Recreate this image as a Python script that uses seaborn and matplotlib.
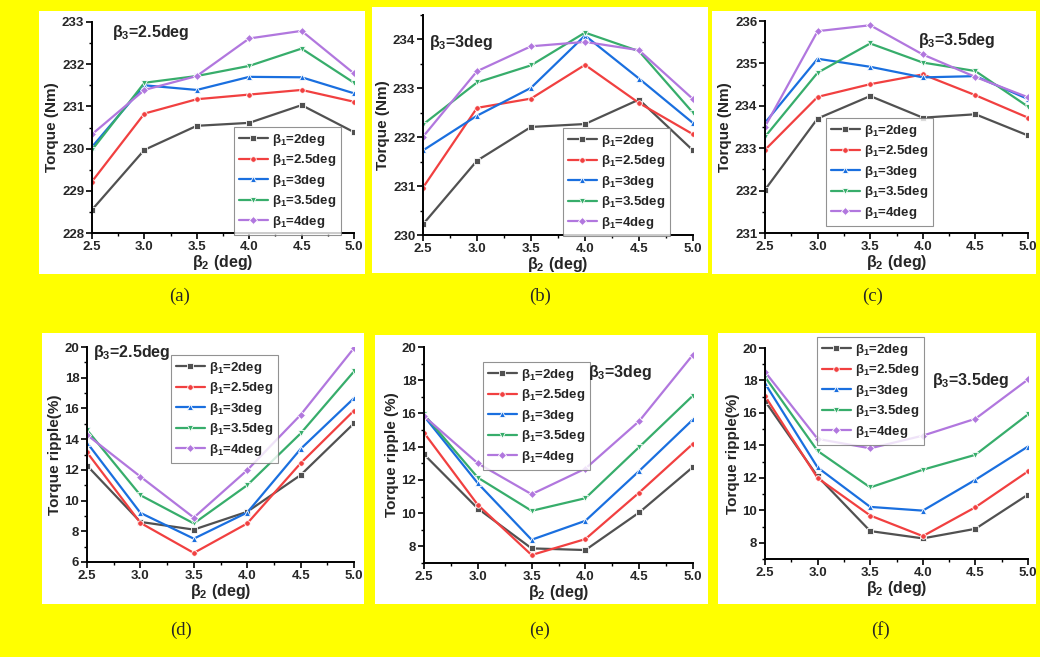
import numpy as np
import pandas as pd
import matplotlib
matplotlib.use("Agg")
import matplotlib.pyplot as plt
from matplotlib.patches import Rectangle
from matplotlib.ticker import MultipleLocator, AutoMinorLocator, FormatStrFormatter
import seaborn as sns

sns.set_theme(style="white")
plt.rcParams["font.family"] = ["Liberation Sans", "DejaVu Sans"]
plt.rcParams["mathtext.fontset"] = "custom"
plt.rcParams["mathtext.rm"] = "Liberation Sans:bold"
plt.rcParams["mathtext.it"] = "Liberation Sans:bold"
plt.rcParams["mathtext.bf"] = "Liberation Sans:bold"

# ---- data -------------------------------------------------------------
beta2 = [2.5, 3.0, 3.5, 4.0, 4.5, 5.0]
beta1_labels = ["β$_1$=2deg", "β$_1$=2.5deg", "β$_1$=3deg", "β$_1$=3.5deg", "β$_1$=4deg"]

# torque (Nm), beta3 = 2.5 deg
torque_b3_25 = [
    [228.55, 229.97, 230.54, 230.61, 231.03, 230.39],
    [229.22, 230.83, 231.17, 231.28, 231.39, 231.11],
    [230.04, 231.50, 231.39, 231.70, 231.69, 231.31],
    [229.97, 231.56, 231.72, 231.96, 232.37, 231.56],
    [230.34, 231.39, 231.72, 232.61, 232.79, 231.78],
]
# torque (Nm), beta3 = 3 deg
torque_b3_30 = [
    [230.22, 231.52, 232.21, 232.27, 232.77, 231.73],
    [230.97, 232.60, 232.79, 233.48, 232.70, 232.06],
    [231.73, 232.44, 233.01, 234.08, 233.20, 232.29],
    [232.26, 233.12, 233.47, 234.14, 233.76, 232.50],
    [232.01, 233.35, 233.86, 233.95, 233.78, 232.78],
]
# torque (Nm), beta3 = 3.5 deg
torque_b3_35 = [
    [232.02, 233.70, 234.23, 233.72, 233.80, 233.30],
    [232.96, 234.21, 234.51, 234.74, 234.25, 233.72],
    [233.60, 235.11, 234.92, 234.67, 234.70, 234.16],
    [233.27, 234.78, 235.47, 235.02, 234.82, 233.98],
    [233.51, 235.76, 235.90, 235.21, 234.68, 234.20],
]
# torque ripple (%), beta3 = 2.5 deg
ripple_b3_25 = [
    [12.28, 8.61, 8.11, 9.27, 11.66, 15.03],
    [13.14, 8.55, 6.59, 8.51, 12.43, 15.86],
    [13.77, 9.20, 7.52, 9.22, 13.36, 16.67],
    [14.60, 10.35, 8.51, 11.00, 14.37, 18.41],
    [14.28, 11.56, 8.89, 11.98, 15.58, 19.93],
]
# torque ripple (%), beta3 = 3 deg
ripple_b3_30 = [
    [13.54, 10.28, 7.88, 7.78, 10.04, 12.78],
    [14.84, 10.50, 7.48, 8.44, 11.24, 14.18],
    [15.84, 11.80, 8.40, 9.54, 12.54, 15.64],
    [15.94, 12.14, 10.14, 10.90, 13.98, 17.08],
    [15.84, 13.00, 11.14, 12.68, 15.54, 19.54],
]
# torque ripple (%), beta3 = 3.5 deg
ripple_b3_35 = [
    [16.73, 12.09, 8.72, 8.27, 8.86, 10.97],
    [17.04, 11.99, 9.68, 8.41, 10.19, 12.40],
    [17.82, 12.64, 10.21, 9.98, 11.88, 13.93],
    [18.22, 13.66, 11.41, 12.50, 13.42, 15.91],
    [18.53, 14.40, 13.82, 14.60, 15.64, 18.06],
]

series_colors = ["#515151", "#F14040", "#1A6FDF", "#37AD6B", "#B177DE"]
series_markers = ["s", "o", "^", "v", "D"]

W, H = 1040, 657
fig = plt.figure(figsize=(W / 100, H / 100), dpi=100, facecolor="#FFFF00")


def fx(px):
    return px / W


def fy(py):
    return 1 - py / H


def white_box(x0, y0, x1, y1):
    fig.add_artist(Rectangle((fx(x0), fy(y1)), fx(x1) - fx(x0), fy(y0) - fy(y1),
                             transform=fig.transFigure, facecolor="white",
                             edgecolor="none", zorder=0))


panels = [
    dict(data=torque_b3_25, box=(39, 11, 365, 274), ax=(92, 22, 354, 233), ylim=(228, 233), ystep=1,
         ylabel="Torque (Nm)", note="β$_3$=2.5deg", note_xy=(112, 33), leg=(234, 127), tag="(a)", tag_xy=(180, 296)),
    dict(data=torque_b3_30, box=(372, 7, 708, 273), ax=(423, 15, 693, 235), ylim=(230, 234.5), ystep=1,
         ylabel="Torque (Nm)", note="β$_3$=3deg", note_xy=(429, 42), leg=(563, 128), tag="(b)", tag_xy=(540, 296)),
    dict(data=torque_b3_35, box=(712, 11, 1036, 274), ax=(765, 21, 1028, 233), ylim=(231, 236), ystep=1,
         ylabel="Torque (Nm)", note="β$_3$=3.5deg", note_xy=(918, 40), leg=(826, 118), tag="(c)", tag_xy=(873, 296)),
    dict(data=ripple_b3_25, box=(42, 333, 364, 604), ax=(87, 347, 354, 562), ylim=(6, 20), ystep=2,
         ylabel="Torque ripple(%)", note="β$_3$=2.5deg", note_xy=(93, 353), leg=(171, 355), tag="(d)", tag_xy=(181, 630)),
    dict(data=ripple_b3_30, box=(375, 335, 708, 604), ax=(424, 347, 693, 563), ylim=(7, 20), ystep=2,
         ylabel="Torque ripple (%)", note="β$_3$=3deg", note_xy=(588, 373), leg=(483, 362), tag="(e)", tag_xy=(540, 630)),
    dict(data=ripple_b3_35, box=(718, 333, 1036, 604), ax=(765, 348, 1028, 559), ylim=(7, 20), ystep=2,
         ylabel="Torque ripple(%)", note="β$_3$=3.5deg", note_xy=(932, 380), leg=(817, 337), tag="(f)", tag_xy=(880, 630)),
]

for p in panels:
    white_box(*p["box"])
    l, t, r, b = p["ax"]
    ax = fig.add_axes([fx(l), fy(b), fx(r) - fx(l), fy(t) - fy(b)])
    ax.set_facecolor("none")

    df = pd.DataFrame({
        "beta2": np.tile(beta2, len(beta1_labels)),
        "value": np.concatenate(p["data"]),
        "series": np.repeat(beta1_labels, len(beta2)),
    })
    sns.lineplot(data=df, x="beta2", y="value", hue="series", style="series",
                 palette=series_colors, markers=series_markers, dashes=False,
                 linewidth=1.6, markersize=4, markeredgewidth=0.6, ax=ax, legend=True)

    ax.set_xlim(2.5, 5.0)
    ax.set_ylim(*p["ylim"])
    ax.xaxis.set_major_locator(MultipleLocator(0.5))
    ax.xaxis.set_minor_locator(AutoMinorLocator(2))
    ax.yaxis.set_major_locator(MultipleLocator(p["ystep"]))
    ax.yaxis.set_minor_locator(AutoMinorLocator(2))
    ax.xaxis.set_major_formatter(FormatStrFormatter("%.1f"))
    ax.yaxis.set_major_formatter(FormatStrFormatter("%d"))

    for side in ("top", "right"):
        ax.spines[side].set_visible(False)
    for side in ("left", "bottom"):
        ax.spines[side].set_color("black")
        ax.spines[side].set_linewidth(1.4)
    ax.tick_params(which="major", direction="out", length=4, width=1.2, color="black",
                   labelsize=9.5, pad=1.5, left=True, bottom=True)
    ax.tick_params(which="minor", direction="out", length=2.5, width=1.0, color="black",
                   left=True, bottom=True)
    for lab in ax.get_xticklabels() + ax.get_yticklabels():
        lab.set_fontweight("bold")

    ax.set_xlabel("β$_2$ (deg)", fontsize=11.5, fontweight="bold", labelpad=0)
    ax.set_ylabel(p["ylabel"], fontsize=11, fontweight="bold", labelpad=2)

    handles, labels = ax.get_legend_handles_labels()
    lx, ly = p["leg"]
    leg = ax.legend(handles, labels, loc="upper left",
                    bbox_to_anchor=(fx(lx), fy(ly)), bbox_transform=fig.transFigure,
                    borderaxespad=0, frameon=True, fancybox=False,
                    prop={"size": 9.5, "weight": "bold"}, handlelength=2.2,
                    handletextpad=0.3, labelspacing=0.35, borderpad=0.35)
    leg.get_frame().set_edgecolor("#777777")
    leg.get_frame().set_linewidth(0.8)

    nx, ny = p["note_xy"]
    fig.text(fx(nx), fy(ny), p["note"], fontsize=11.5, fontweight="bold",
             ha="left", va="center")

    tx, ty = p["tag_xy"]
    fig.text(fx(tx), fy(ty), p["tag"], fontsize=13.5, family="Liberation Serif",
             ha="center", va="center")

fig.savefig("out.png", dpi=100, facecolor=fig.get_facecolor())
